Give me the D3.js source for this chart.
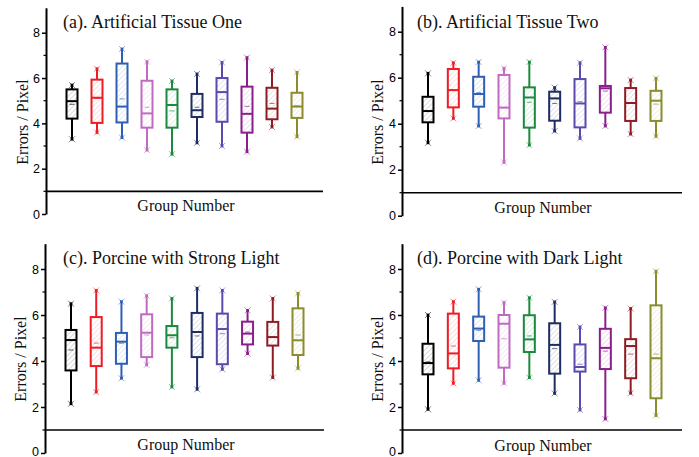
<!DOCTYPE html>
<html>
<head>
<meta charset="utf-8">
<script src="https://cdn.jsdelivr.net/npm/d3@7"></script>
<style>
  body { margin: 0; background: #fff; }
  svg { display: block; }
  .serif { font-family: 'Liberation Serif', 'Times New Roman', Times, 'DejaVu Serif', serif; }
  .sans { font-family: 'Liberation Sans', Arial, Helvetica, sans-serif; }
</style>
</head>
<body>
<div id="chart"></div>
<script>
// ---- data ----
const groups = d3.range(1, 11);
const groupColors = ['#000000', '#ee1c24', '#2f5fb3', '#c06ac0', '#1b8a3c',
                     '#1f2d63', '#5b4aad', '#8a1f8c', '#8e1c24', '#8c8c2e'];
const panelTitles = ['(a). Artificial Tissue One', '(b). Artificial Tissue Two',
                     '(c). Porcine with Strong Light', '(d). Porcine with Dark Light'];
const yTicks = [0, 2, 4, 6, 8];
const yMinorTicks = [1, 3, 5, 7];

// one row per panel (a-d), one value per group
const whiskerLow = [
  [3.30, 3.60, 3.37, 2.82, 2.64, 3.14, 3.00, 2.75, 3.84, 3.41],
  [3.17, 4.23, 3.90, 2.32, 3.07, 3.68, 3.36, 3.90, 3.55, 3.45],
  [2.14, 2.65, 3.25, 3.83, 2.87, 2.77, 3.64, 4.32, 3.28, 3.68],
  [1.90, 3.03, 3.16, 3.03, 3.28, 2.59, 1.87, 1.48, 2.60, 1.63]
];
const boxLow = [
  [4.21, 4.02, 4.04, 3.81, 3.81, 4.28, 4.07, 3.59, 4.18, 4.24],
  [4.06, 4.71, 4.74, 4.23, 3.83, 4.13, 3.84, 4.48, 4.12, 4.12],
  [3.59, 3.78, 3.88, 4.17, 4.58, 4.17, 3.86, 4.72, 4.67, 4.26],
  [3.42, 3.68, 4.87, 3.71, 4.39, 3.45, 3.54, 3.65, 3.25, 2.38]
];
const medians = [
  [4.98, 5.13, 4.74, 4.44, 4.81, 4.58, 5.38, 4.42, 4.65, 4.74],
  [4.55, 5.46, 5.29, 4.70, 5.14, 5.10, 4.88, 5.54, 4.90, 5.00],
  [4.91, 4.58, 4.84, 5.23, 5.12, 5.26, 5.39, 5.19, 5.04, 4.90],
  [3.91, 4.33, 5.41, 5.62, 4.94, 4.70, 3.74, 4.57, 4.65, 4.12]
];
const means = [
  [4.84, 5.10, 5.08, 4.71, 4.55, 4.71, 5.06, 4.75, 4.88, 4.78],
  [4.55, 5.46, 5.35, 4.70, 4.93, 4.88, 4.96, 5.42, 4.88, 4.85],
  [4.48, 4.78, 4.77, 5.13, 5.01, 5.09, 5.19, 5.26, 5.05, 5.13],
  [3.96, 4.65, 5.33, 4.97, 5.09, 4.54, 3.86, 4.43, 4.30, 4.30]
];
const boxHigh = [
  [5.50, 5.93, 6.64, 5.88, 5.50, 5.30, 6.00, 5.62, 5.57, 5.35],
  [5.17, 6.38, 6.04, 6.12, 5.58, 5.39, 5.94, 5.64, 5.55, 5.43],
  [5.35, 5.91, 5.22, 6.03, 5.52, 6.09, 6.06, 5.71, 5.70, 6.29],
  [4.75, 6.06, 5.93, 6.00, 5.99, 5.64, 4.72, 5.40, 4.95, 6.42]
];
const whiskerHigh = [
  [5.69, 6.41, 7.28, 6.72, 5.87, 6.18, 6.69, 6.90, 6.35, 6.25],
  [6.19, 6.65, 6.68, 6.41, 6.68, 5.57, 6.65, 7.32, 5.90, 5.97],
  [6.49, 7.07, 6.58, 6.84, 6.72, 7.16, 7.07, 6.20, 6.72, 6.94],
  [6.00, 6.58, 7.12, 6.54, 6.75, 6.57, 5.48, 6.31, 6.28, 7.90]
];

// ---- layout of the four panels ----
const panels = [
  { axisX: 46,  axisEnd: 323, yZero: 214,   unit: 22.66, titleX: 63,  titleY: 28,  labelX: 28,  labelY: 122, groupX: 186, groupY: 211 },
  { axisX: 402, axisEnd: 682, yZero: 215.7, unit: 23,    titleX: 417, titleY: 28,  labelX: 383, labelY: 122, groupX: 543, groupY: 213 },
  { axisX: 45,  axisEnd: 324, yZero: 453,   unit: 23,    titleX: 63,  titleY: 264, labelX: 26,  labelY: 359, groupX: 186, groupY: 450 },
  { axisX: 402, axisEnd: 682, yZero: 453,   unit: 23,    titleX: 417, titleY: 264, labelX: 383, labelY: 359, groupX: 543, groupY: 450.5 }
];

const svg = d3.select('#chart').append('svg')
    .attr('width', 699)
    .attr('height', 457);

// hatch patterns, one per colour
const defs = svg.append('defs');
groupColors.forEach((c, i) => {
    const p = defs.append('pattern')
        .attr('id', 'hatch' + i)
        .attr('patternUnits', 'userSpaceOnUse')
        .attr('width', 3.6)
        .attr('height', 3.6)
        .attr('patternTransform', 'rotate(45)');
    p.append('line')
        .attr('x1', 0).attr('y1', 0)
        .attr('x2', 0).attr('y2', 3.6)
        .attr('stroke', c)
        .attr('stroke-width', 0.7)
        .attr('stroke-opacity', 0.4);
});

const boxWidth = 11;

panels.forEach((pl, pi) => {
    const g = svg.append('g');
    const yMax = 9.1;

    const y = d3.scaleLinear()
        .domain([0, yMax])
        .range([pl.yZero, pl.yZero - yMax * pl.unit]);

    const x = d3.scalePoint()
        .domain(groups)
        .range([pl.axisX + 26, pl.axisEnd - 26]);

    // y axis
    const yAxis = g.append('g')
        .attr('transform', `translate(${pl.axisX},0)`)
        .call(d3.axisLeft(y).tickValues(yTicks).tickSize(4).tickSizeOuter(0).tickPadding(2));
    yAxis.attr('font-family', null).attr('font-size', null);
    yAxis.select('.domain').attr('stroke-width', 2);
    yAxis.selectAll('.tick line').attr('stroke-width', 1.5);
    yAxis.selectAll('text')
        .attr('class', 'sans')
        .style('font-size', '12.5px')
        .attr('fill', '#000');
    // keep the bottom "0" inside the picture
    if (pl.yZero > 440) {
        yAxis.selectAll('.tick').filter(d => d === 0).select('text').attr('y', -2);
    }

    g.append('g')
        .selectAll('line')
        .data(yMinorTicks)
        .join('line')
        .attr('x1', pl.axisX - 2.5).attr('x2', pl.axisX)
        .attr('y1', d => y(d)).attr('y2', d => y(d))
        .attr('stroke', '#000')
        .attr('stroke-width', 1.2);

    // baseline at 1
    g.append('line')
        .attr('x1', pl.axisX).attr('x2', pl.axisEnd)
        .attr('y1', y(1)).attr('y2', y(1))
        .attr('stroke', '#000')
        .attr('stroke-width', 1.6);

    // texts
    g.append('text')
        .attr('class', 'serif')
        .attr('x', pl.titleX).attr('y', pl.titleY)
        .style('font-size', '18px')
        .attr('fill', '#111')
        .text(panelTitles[pi]);

    g.append('text')
        .attr('class', 'serif')
        .attr('x', pl.groupX).attr('y', pl.groupY)
        .attr('text-anchor', 'middle')
        .style('font-size', '16px')
        .attr('fill', '#111')
        .text('Group Number');

    g.append('text')
        .attr('class', 'serif')
        .attr('transform', `translate(${pl.labelX},${pl.labelY}) rotate(-90)`)
        .attr('text-anchor', 'middle')
        .style('font-size', '16px')
        .attr('fill', '#111')
        .text('Errors / Pixel');

    // boxes
    const boxes = g.selectAll('.box')
        .data(groups)
        .join('g')
        .attr('class', 'box')
        .attr('transform', d => `translate(${x(d)},0)`);

    const col = (d, i) => groupColors[i];

    boxes.append('line')
        .attr('y1', (d, i) => y(whiskerHigh[pi][i]))
        .attr('y2', (d, i) => y(boxHigh[pi][i]))
        .attr('stroke', col)
        .attr('stroke-width', 2);

    boxes.append('line')
        .attr('y1', (d, i) => y(boxLow[pi][i]))
        .attr('y2', (d, i) => y(whiskerLow[pi][i]))
        .attr('stroke', col)
        .attr('stroke-width', 2);

    boxes.append('rect')
        .attr('x', -boxWidth / 2)
        .attr('width', boxWidth)
        .attr('y', (d, i) => y(boxHigh[pi][i]))
        .attr('height', (d, i) => y(boxLow[pi][i]) - y(boxHigh[pi][i]))
        .attr('fill', (d, i) => `url(#hatch${i})`)
        .attr('stroke', col)
        .attr('stroke-width', 2);

    boxes.append('line')
        .attr('x1', -boxWidth / 2).attr('x2', boxWidth / 2)
        .attr('y1', (d, i) => y(medians[pi][i]))
        .attr('y2', (d, i) => y(medians[pi][i]))
        .attr('stroke', col)
        .attr('stroke-width', 2);

    boxes.append('line')
        .attr('x1', -2.5).attr('x2', 2.5)
        .attr('y1', (d, i) => y(means[pi][i]))
        .attr('y2', (d, i) => y(means[pi][i]))
        .attr('stroke', col)
        .attr('stroke-opacity', 0.6)
        .attr('stroke-width', 1.1);

    // whisker end markers: light cross plus solid dot
    [whiskerHigh, whiskerLow].forEach(arr => {
        const m = boxes.append('g')
            .attr('transform', (d, i) => `translate(0,${y(arr[pi][i])})`);
        m.append('path')
            .attr('d', 'M-3,-3L3,3M-3,3L3,-3')
            .attr('stroke', col)
            .attr('stroke-opacity', 0.55)
            .attr('stroke-width', 0.9)
            .attr('fill', 'none');
        m.append('rect')
            .attr('x', -1.4).attr('y', -1.4)
            .attr('width', 2.8).attr('height', 2.8)
            .attr('fill', col);
    });
});
</script>
</body>
</html>
